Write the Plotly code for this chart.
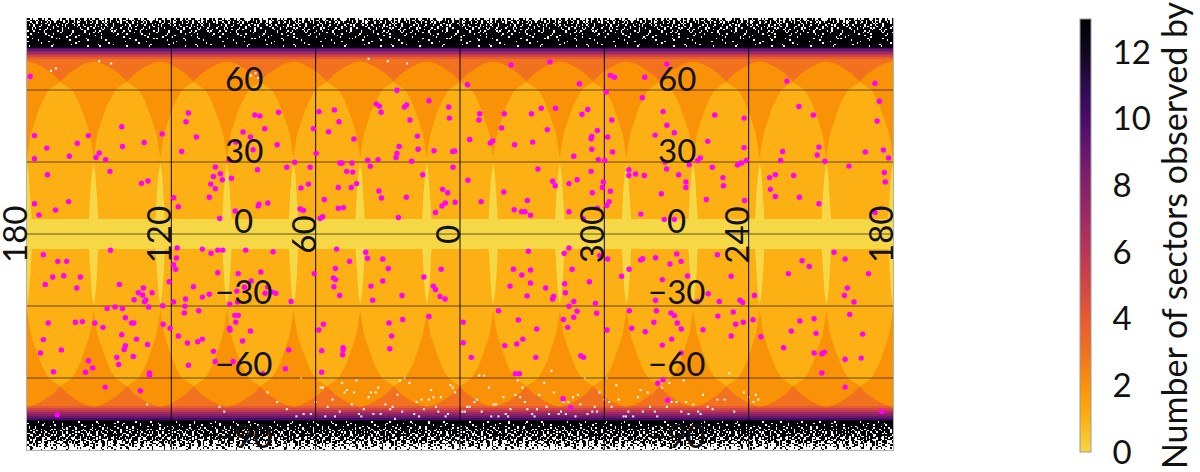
import numpy as np
import plotly.graph_objects as go

# ---- data -----------------------------------------------------------------
SECTOR_LON = [180, 152.3, 124.6, 96.9, 69.2, 41.5, 13.8, -13.8, -41.5, -69.2, -96.9, -124.6, -152.3, -180]
LOBE_LON = [166.15, 138.45, 110.75, 83.05, 55.35, 27.65, 0, -27.65, -55.35, -83.05, -110.75, -138.45, -166.15]

LOBE_LAT = [63.3, 62, 60, 55.8, 52.9, 48.8, 41.8, 35, 31.7]
LOBE_HALF = [0, 2.2, 4.9, 7.3, 8.6, 10.0, 12.3, 13.4, 13.85]
ARCH_LAT = [72, 71.4, 69.7, 67, 63.5, 60]
ARCH_HALF = [0, 2.8, 6.2, 10.4, 13.85, 16]
SLIVER_LAT = [29.6, 25.3, 17, 10, 6.25]
SLIVER_HALF = [0, 0.7, 1.38, 1.75, 1.94]
EQUATOR_BAND_LAT = 6.25

NORTH_EDGES = [78.1, 77.7, 77.1, 76.4, 75.8, 75.2, 74.6, 73.9, 73.0]
NORTH_LEVELS = [12, 10, 9, 8, 7, 6, 5, 4]
SOUTH_EDGES = [-71.7, -72.6, -73.4, -74.2, -75.0, -75.8, -76.6, -77.3, -78.1]
SOUTH_LEVELS = [4, 5, 6, 7, 8, 9, 10, 12]

LEVEL_COLORS = ["#f6d746", "#fcb014", "#fa9207", "#f1711f", "#e55c30", "#d24644", "#ba3655",
                "#9f2a63", "#852069", "#6a176e", "#480b6a", "#2c0b4e", "#10071f", "#000004"]

TOP_SPECKLE = [
    "##.#...###.#..##.....#.###..#...##.###..#.#..###...#.##..##.#..#",
    "#.###.##.##..#.###.##.#..###.#.####.#.##...##.#.##.###.#.#.##.##",
    ".#####.##.###.#..####.###.##.###.#.##.####.#.###.###.##.###.#.##",
    "###.####.##.#####.##.#####.####.###.##.#####.##.###.####.#.###.#",
    "#.#######.###.##.####.#######.##.####.####.####.###.#.#####.##.#",
    "####.##.####.#######.####.###.##.#.#####.###.#####.####.###.####",
    "##.#####.####.#.#######.###.#####.###.#######.####.###.####.#.##",
    "#####.###.#########.####.###.#######.####.###.##.#######.#######",
    "###.########.##.######.#######.######.##.#######.#.#####.###.###",
    "########.#####.#######.###.##########.#######.#######.#####.##.#",
    "###.###########.#######.##########.#####.#########.####.########",
    "###########.#############.#####.##########.#############.#######",
    "#####.##############.###############.#########.#####.###########",
    "#############.#########.##################.###############.#.####",
    "####.####################.###########.###########.###############",
    "####################.#############.###################.##########",
    "##########.#####################.###################.############",
    "##################.###########.#################.#########.######",
    "#######.#################.##############.#######################.",
]
BOTTOM_SPECKLE = [
    "#######.#########.################.###########.#############.####",
    "############.##########.#####.##########.###########.###########",
    "###.#######.####.############.######.#######.###########.########",
    "#####.#########.#######.###.#########.############.##.######.####",
    "#########.##.#####.##########.######.##.######.#####.###.########",
    "###.####.######.#####.####.######.#.#####.#.#####.####.####.##.#",
    "####.#######.#####.#.####.###.####.###.#####.###.###.####.###.##",
    ".####.###.#####.####.##.####.#.###.##.#####.#.####.#.####.##.###",
    "##.###.#####.###..####.###.######.#.####..###.#####.##.####.###.",
    "####.##..####.##.####.#.####..###.###.####.##.#.###.####..######",
    "#.###.#.#####..###.##.#####.#.##.####.##..####.##.######.#.##.##",
    ".###.####..#..####.#.####.##...###.###.#.####.#.####.##..###.###",
    "##..####.#.###....###.#.###.##.#..####.##...###.###.#.####.#.#..",
    "###...#####.##.##..##.###..#.###...#.####.##..###.###...###.#.##",
    ".#.##..###.#...###...#.###.##..#.###.#..##....###.#.#.###..#.##.",
    "#.....###.#.##...#.##...##.#.###.....##.#.#..##.#...##.#.###...#",
    "..##.#...##...###...#.#....##..#.##...#...##...#.##...###...#.#.",
    "#....##.#...#.....##...#.#.....#...##...#.....##...#.#...##.....",
    "..#.....#...##.......#....#..#.......#.....#.#.......##....#...#",
    ".......#........#.......#........#......#........#.......#.......",
]

POINT_LON = [
 178.7,176.9,171.8,176.9,159.1,154.5,162.4,150.0,151.3,147.3,140.6,140.3,123.8,131.3,145.5,171.5,132.4,129.7,176.9,175.0,
 168.1,162.7,112.9,113.9,109.6,115.7,101.7,102.5,99.6,98.8,95.0,103.6,101.7,104.2,119.0,117.1,99.9,93.5,96.0,93.2,
 90.2,87.1,86.0,85.3,83.2,81.2,75.4,76.0,84.2,72.0,68.7,62.3,66.1,63.0,79.9,83.6,83.9,66.5,65.1,60.9,
 58.6,59.8,52.2,50.3,54.6,44.1,49.9,49.0,44.9,47.1,44.6,43.0,45.2,50.6,56.4,50.6,48.5,57.1,58.2,34.8,
 33.5,32.8,26.2,23.1,22.2,20.8,12.9,17.7,25.3,26.2,26.6,17.4,20.1,38.4,34.1,37.3,15.5,10.8,3.0,2.2,
 4.7,4.4,2.9,33.7,32.6,22.3,7.2,5.1,2.0,6.1,7.5,10.2,25.6,-3.1,-21.2,-37.4,-49.6,-62.5,-64.2,-60.8,
 -8.2,-7.9,-18.4,-29.7,-33.8,-39.7,-53.1,-50.7,-17.3,-36.3,-4.0,-13.6,-12.6,-22.7,-30.2,-63.1,-57.1,-54.8,-54.5,-61.4,
 -54.8,-63.4,-47.3,-57.5,-60.2,-32.4,-54.5,-3.3,-48.7,-45.3,-38.5,-39.6,-59.6,-59.2,-62.5,-55.0,-18.2,-8.8,-28.0,-22.5,
 -25.6,-27.0,-29.3,-45.3,-51.3,-57.1,-61.0,-62.0,-70.2,-70.2,-76.8,-86.0,-75.8,-84.4,-86.0,-89.1,-81.1,-105.9,-118.1,-103.0,
 -118.1,-99.9,-98.8,-95.3,-85.2,-85.9,-73.0,-76.6,-90.9,-93.9,-93.9,-83.7,-104.9,-109.3,-109.5,-102.4,-118.3,-115.4,-117.0,-119.0,
 -75.2,-84.9,-89.1,-135.9,-140.9,-146.9,-172.5,-174.3,-173.4,-149.2,-148.5,-134.1,-133.3,-151.7,-168.5,-176.0,-178.2,-161.7,-138.7,-131.1,
 -128.7,-129.0,-131.1,-141.1,-149.2,-176.4,-176.8,-172.5,
 173.2,167.2,163.5,145.3,169.3,164.7,157.8,172.4,159.3,141.6,131.6,133.7,131.9,128.0,135.5,130.6,131.2,129.4,123.6,146.7,
 143.4,140.3,139.1,171.2,159.9,157.0,151.8,148.4,136.5,135.6,123.4,120.5,140.6,173.2,134.5,129.9,139.1,139.6,165.7,174.4,
 142.7,135.8,154.5,141.9,152.7,155.7,169.0,129.1,129.1,147.5,132.9,167.5,117.6,107.1,103.5,100.7,98.6,89.1,77.7,117.9,
 119.1,118.2,120.9,100.7,92.2,82.8,60.6,110.8,89.6,86.8,79.9,78.2,76.6,92.8,81.0,104.2,107.1,114.1,119.1,114.3,
 95.7,92.5,70.2,114.6,108.6,93.6,92.2,93.2,95.8,95.6,87.1,58.7,117.1,113.3,109.0,107.1,90.4,102.5,71.2,101.8,
 94.3,112.9,72.6,82.0,51.3,39.2,38.5,32.1,45.9,51.8,29.8,7.8,52.6,51.7,15.0,32.1,52.4,37.0,11.1,10.2,
 50.0,24.1,36.3,8.3,6.2,56.8,29.5,23.8,12.9,28.4,57.5,48.6,48.6,48.8,29.2,57.5,-28.4,-45.3,-43.3,-58.1,
 -61.4,-22.2,-29.3,-25.7,-46.6,-29.3,-43.5,-53.8,-67.2,-70.3,-20.8,-35.6,-43.8,-27.9,-38.9,-38.5,-47.3,-56.3,-45.3,-16.0,
 -48.7,-56.8,-70.4,-47.3,-43.0,-24.3,-1.3,-44.8,-31.9,-61.1,-26.1,-1.3,-23.6,-18.6,-31.5,-4.7,-50.2,-51.4,-23.0,-24.7,
 -42.8,-46.0,-81.3,-75.1,-75.9,-90.1,-91.9,-87.3,-107.0,-94.6,-84.1,-112.7,-103.2,-81.3,-98.7,-107.8,-116.4,-117.5,-122.4,-81.6,
 -87.7,-89.1,-107.2,-113.6,-80.6,-90.3,-114.6,-117.8,-71.4,-92.0,-77.0,-101.0,-121.8,-112.7,-125.1,-88.0,-84.1,-91.9,-84.4,-82.2,
 -86.3,-142.2,-145.2,-155.5,-160.1,-136.5,-169.8,-161.0,-159.8,-163.8,-162.0,-147.2,-141.3,-137.7,-148.0,-167.4,-134.5,-147.2,-150.5,-151.5,
 -160.1,-166.8,-150.4,-160.1,-175.4,
]
POINT_LAT = [
 65.6,41.0,35.8,31.4,37.8,41.0,32.4,33.8,31.9,31.0,44.7,36.5,41.7,38.1,26.1,24.7,21.1,22.1,12.6,7.9,
 10.0,13.5,50.4,46.8,40.4,34.4,27.9,24.0,25.1,22.6,23.2,20.8,18.9,15.3,15.1,11.4,6.5,9.6,30.8,38.3,
 42.5,40.4,35.1,49.6,49.2,43.9,50.7,37.2,26.8,27.8,29.9,27.8,19.2,20.8,12.9,12.4,11.7,10.4,9.9,43.9,
 51.0,33.6,51.7,46.8,42.6,39.6,29.6,29.6,29.6,26.1,25.8,21.0,19.4,19.4,14.4,10.7,11.0,7.2,6.5,54.2,
 53.3,50.7,59.9,52.9,53.8,47.5,55.5,40.8,36.5,33.6,31.9,35.3,30.3,30.7,31.0,28.2,24.7,34.7,34.4,34.6,
 52.9,48.3,27.8,17.9,15.0,15.3,18.6,17.2,13.2,12.9,11.7,9.0,6.9,62.2,70.4,71.7,62.6,66.1,65.3,59.2,
 50.1,47.5,50.1,50.1,52.4,52.4,51.9,49.9,44.2,43.5,39.4,38.8,37.9,37.2,38.3,47.5,43.1,40.6,39.7,40.4,
 35.3,34.2,32.4,31.0,30.6,27.1,26.1,22.4,22.6,21.0,22.0,20.1,21.7,19.4,17.8,17.2,17.5,13.5,14.0,10.1,
 9.3,9.3,7.8,9.3,6.3,10.8,11.9,13.5,26.8,24.4,65.3,70.8,56.8,51.0,45.3,42.2,41.2,49.6,48.3,38.6,
 36.0,31.7,30.6,28.9,30.0,27.1,25.0,24.4,24.7,21.7,19.4,16.8,27.8,23.5,20.1,14.4,14.0,28.8,29.6,30.6,
 8.3,6.1,6.1,63.7,53.1,49.6,62.8,55.3,47.1,36.2,32.9,34.4,30.6,30.3,34.2,35.0,31.7,28.3,24.4,24.7,
 23.5,18.6,15.6,15.3,12.6,25.6,21.7,9.0,
 -8.6,-11.4,-11.4,-6.8,-17.9,-17.4,-17.9,-21.0,-22.5,-21.0,-22.5,-24.5,-25.4,-24.5,-27.4,-27.5,-28.2,-30.4,-29.9,-31.0,
 -30.4,-31.0,-34.9,-37.1,-36.8,-36.5,-37.1,-38.9,-37.1,-37.1,-37.6,-39.3,-42.0,-44.0,-43.8,-46.0,-46.5,-48.1,-48.3,-49.6,
 -51.4,-51.0,-52.8,-54.4,-55.8,-57.6,-57.4,-57.9,-58.9,-63.8,-65.3,-75.3,-5.8,-6.3,-8.0,-6.7,-6.7,-6.7,-7.4,-10.0,
 -12.8,-14.7,-19.9,-16.1,-16.5,-15.8,-16.5,-22.0,-22.2,-19.6,-22.1,-24.2,-24.7,-23.8,-24.7,-25.1,-26.3,-27.1,-28.3,-30.1,
 -29.2,-28.3,-28.1,-32.9,-32.0,-33.9,-33.9,-36.7,-39.2,-40.0,-40.4,-40.0,-42.5,-45.4,-44.9,-43.8,-44.6,-48.9,-48.3,-53.1,
 -53.1,-54.7,-56.1,-58.2,-6.3,-7.6,-10.1,-10.4,-11.4,-14.4,-14.4,-14.7,-18.3,-19.0,-17.9,-19.6,-22.0,-21.7,-21.7,-23.1,
 -25.6,-25.6,-27.6,-26.0,-27.1,-37.6,-37.1,-35.6,-34.4,-42.5,-48.6,-47.4,-48.2,-50.3,-47.8,-57.6,-7.2,-5.8,-8.1,-9.0,
 -10.4,-14.7,-15.0,-17.1,-14.7,-20.4,-20.7,-19.9,-17.6,-14.7,-21.7,-22.5,-24.5,-25.8,-26.0,-27.1,-28.1,-28.9,-30.1,-32.0,
 -32.2,-33.0,-32.0,-34.7,-35.6,-35.8,-36.7,-38.9,-39.6,-40.0,-43.8,-45.3,-45.8,-46.5,-51.4,-51.4,-50.7,-51.4,-58.2,-58.2,
 -68.6,-72.4,-9.9,-10.8,-10.3,-8.3,-11.4,-12.5,-8.6,-17.5,-19.0,-17.6,-24.9,-27.6,-28.2,-28.1,-27.6,-28.5,-25.6,-32.0,
 -32.9,-34.0,-34.2,-32.5,-36.8,-37.1,-37.6,-36.8,-39.3,-39.6,-40.7,-39.9,-35.7,-42.5,-42.8,-43.8,-46.3,-49.6,-60.7,-62.2,
 -69.3,-11.1,-13.5,-7.6,-10.4,-16.5,-16.5,-22.5,-25.6,-28.3,-33.5,-35.3,-36.2,-40.4,-41.4,-41.7,-47.4,-49.6,-49.9,-49.2,
 -52.2,-51.7,-57.9,-63.8,-74.0,
]

# sparse empty pixels seen in the coverage map
GAP_LON = [170, 168, 150, 145, 87, 85, 84, 38, 30, 22, 130, 100, 98, 80, 76, 72, 66, 60, 58, 55, 53, 50, 48, 45, 43, 40, 38, 36,
           34, 31, 28, 26, 24, 21, 18, 15, 12, 10, 8, 5, 2, -3, -6, -9, -12, -15, -18, -21, -24, -27, -30, -33, -36, -39, -42,
           -45, -50, -55, -58, -63, -66, -70, -74, -79, -84, -88, -92, -97, -101, -105, -110, -114, -118, -120, -122, -123, -124,
           68, 62, 56, 47, 41, 35, 27, 19, 13, 6, -1, -7, -13, -19, -25, -31, -37, -43, -48, -53, -60, -68, -76, -82, -90, -95, -103,
           52, 44, 33, 25, 16, 9, 3, -4, -10, -16, -23, -28, -35, -41, -47, -52, -57, -62, -65, -72, -78, -86, -93, -99, -107, -112,
           65, 57, 49, 42, 37, 29, 23, 17, 11, 4, -2, -8, -14, -20, -26, -32, -38, -44, -49, -56, -61, -69, -75, -81, -87, -94, -100]
GAP_LAT = [68, 69, 72, 71, 66, 67, 65, 73, 72, 71, -71, -72, -74, -66, -70, -73, -60, -70, -64, -72, -69, -74, -66, -71, -61, -73,
           -68, -75, -64, -71, -72, -67, -74, -62, -70, -73, -65, -72, -68, -75, -66, -72, -70, -74, -64, -71, -68, -73, -61, -70,
           -75, -67, -72, -66, -74, -70, -71, -74, -66, -72, -69, -74, -68, -72, -64, -70, -74, -71, -67, -73, -69, -74, -66, -68,
           -70, -67, -69, -76, -75, -76, -65, -76, -66, -77, -75, -69, -76, -74, -69, -76, -75, -68, -76, -75, -70, -76, -75, -69,
           -76, -74, -76, -70, -75, -72, -76, -66,
           -75, -61, -69, -74, -64, -72, -59, -76, -67, -73, -62, -75, -68, -60, -74, -70, -63, -76, -66, -72, -61, -74, -69, -58, -75, -64,
           -62, -75, -66, -73, -60, -76, -68, -63, -74, -59, -71, -76, -64, -73, -57, -75, -67, -72, -60, -76, -65, -74, -62, -70, -75, -61, -68]

GRID_LON = [120, 60, 0, -60, -120]
GRID_LAT = [60, 30, 0, -30, -60]

LON_TICK_VALUES = [180, 120, 60, 0, -60, -120, -180]
LON_TICK_TEXT = ["180", "120", "60", "0", "300", "240", "180"]
LAT_TICK_TEXT = ["60", "30", "0", "\u221230", "\u221260", "\u221290"]
LAT_TICK_POS = [65, 35.2, 5.8, -23.7, -53.8, -83.7]
LAT_LABEL_LON = [90, -90]
CBAR_TICKS = [0, 2, 4, 6, 8, 10, 12]
CBAR_TITLE = "Number of sectors observed by"

FONT = "Lato, sans-serif"
VMAX = 13
CELL = 0.625

# ---- heatmap: background level, pole bands and the speckled caps -----------
n_cols = int(round(360 / CELL))
x_edges = np.linspace(180, -180, n_cols + 1)


def tile_row(s, shift):
    return [VMAX if s[(i + shift) % len(s)] == "#" else None for i in range(n_cols)]


rows, y_edges = [], [90.0]
for i, s in enumerate(TOP_SPECKLE):
    rows.append(tile_row(s, i * 23))
    y_edges.append(90 - (i + 1) * (90 - NORTH_EDGES[0]) / len(TOP_SPECKLE))
for lev, e in zip(NORTH_LEVELS, NORTH_EDGES[1:]):
    rows.append([lev] * n_cols)
    y_edges.append(e)
rows.append([3] * n_cols)
y_edges.append(SOUTH_EDGES[0])
for lev, e in zip(SOUTH_LEVELS, SOUTH_EDGES[1:]):
    rows.append([lev] * n_cols)
    y_edges.append(e)
for i, s in enumerate(BOTTOM_SPECKLE):
    rows.append(tile_row(s, i * 29))
    y_edges.append(SOUTH_EDGES[-1] - (i + 1) * (90 + SOUTH_EDGES[-1]) / len(BOTTOM_SPECKLE))

colorscale = [[i / VMAX, c] for i, c in enumerate(LEVEL_COLORS)]

fig = go.Figure()
fig.add_trace(go.Heatmap(
    x=x_edges, y=y_edges[::-1], z=rows[::-1], zmin=0, zmax=VMAX, colorscale=colorscale,
    hoverongaps=False, xgap=0, ygap=0,
    colorbar=dict(
        x=(1080 - 27) / 866, xanchor="left", y=(450 - 235.5) / 432, yanchor="middle",
        thicknessmode="pixels", thickness=11, lenmode="pixels", len=433, ypad=0, xpad=0,
        outlinecolor="#9a9a9a", outlinewidth=1, tickvals=CBAR_TICKS,
        ticks="outside", ticklen=15, tickcolor="rgba(0,0,0,0)",
        tickfont=dict(family=FONT, size=33, color="#111"),
        title=dict(text=CBAR_TITLE, side="right", font=dict(family=FONT, size=34, color="#111")),
    ),
))


def polygons(centres, lats_north, half):
    xs, ys = [], []
    for c in centres:
        lat_all = list(lats_north) + [-v for v in lats_north[::-1]]
        w_all = list(half) + list(half)[::-1]
        xs += [c + v for v in w_all] + [c - v for v in w_all[::-1]] + [None]
        ys += lat_all + lat_all[::-1] + [None]
    return xs, ys


def add_fill(xs, ys, level):
    fig.add_trace(go.Scatter(x=xs, y=ys, mode="lines", fill="toself", line=dict(width=0),
                             fillcolor=LEVEL_COLORS[level], hoverinfo="skip", showlegend=False))


for c in SECTOR_LON:
    add_fill(*polygons([c], ARCH_LAT, ARCH_HALF), 2)
for c in LOBE_LON:
    add_fill(*polygons([c], LOBE_LAT, LOBE_HALF), 1)
add_fill([180, -180, -180, 180, 180], [31.7, 31.7, -31.7, -31.7, 31.7], 1)
add_fill([180, -180, -180, 180, 180],
         [EQUATOR_BAND_LAT, EQUATOR_BAND_LAT, -EQUATOR_BAND_LAT, -EQUATOR_BAND_LAT, EQUATOR_BAND_LAT], 0)
for c in SECTOR_LON:
    add_fill(*polygons([c], SLIVER_LAT, SLIVER_HALF), 0)

fig.add_trace(go.Scatter(x=GAP_LON, y=GAP_LAT, mode="markers", hoverinfo="skip", showlegend=False,
                         marker=dict(color="white", size=2, symbol="square", line=dict(width=0))))

hx, hy, vx, vy = [], [], [], []
for la in GRID_LAT:
    hx += [180, -180, None]
    hy += [la, la, None]
for lo in GRID_LON:
    vx += [lo, lo, None]
    vy += [90, -90, None]
fig.add_trace(go.Scatter(x=hx, y=hy, mode="lines", line=dict(color="rgba(0,0,0,0.6)", width=1),
                         hoverinfo="skip", showlegend=False))
fig.add_trace(go.Scatter(x=vx, y=vy, mode="lines", line=dict(color="rgba(0,0,0,0.95)", width=1),
                         hoverinfo="skip", showlegend=False))

fig.add_trace(go.Scatter(x=POINT_LON, y=POINT_LAT, mode="markers", showlegend=False,
                         marker=dict(color="#ff00ff", size=5.4, line=dict(width=0))))

annots = []
for v, t in zip(LON_TICK_VALUES, LON_TICK_TEXT):
    annots.append(dict(x=v, y=0, xref="x", yref="y", text=t, textangle=-90, showarrow=False,
                       xshift=-13, yshift=-1, font=dict(family=FONT, size=33, color="#111")))
for lo in LAT_LABEL_LON:
    for la, t in zip(LAT_TICK_POS, LAT_TICK_TEXT):
        annots.append(dict(x=lo, y=la, xref="x", yref="y", text=t, showarrow=False,
                           font=dict(family=FONT, size=33, color="#111")))

fig.update_layout(
    width=1200, height=472, paper_bgcolor="white", plot_bgcolor="white",
    margin=dict(l=27, r=307, t=18, b=22, autoexpand=False),
    xaxis=dict(range=[180, -180], showgrid=False, zeroline=False, showticklabels=False, ticks="",
               showline=True, linecolor="#b0b0b0", linewidth=1),
    yaxis=dict(range=[-90, 90], showgrid=False, zeroline=False, showticklabels=False, ticks="",
               showline=True, linecolor="#b0b0b0", linewidth=1, mirror=True),
    annotations=annots, showlegend=False,
)

fig.write_html("out.html", config=dict(displayModeBar=False),
               post_script="document.body.style.margin='0';document.body.style.overflow='hidden';")
